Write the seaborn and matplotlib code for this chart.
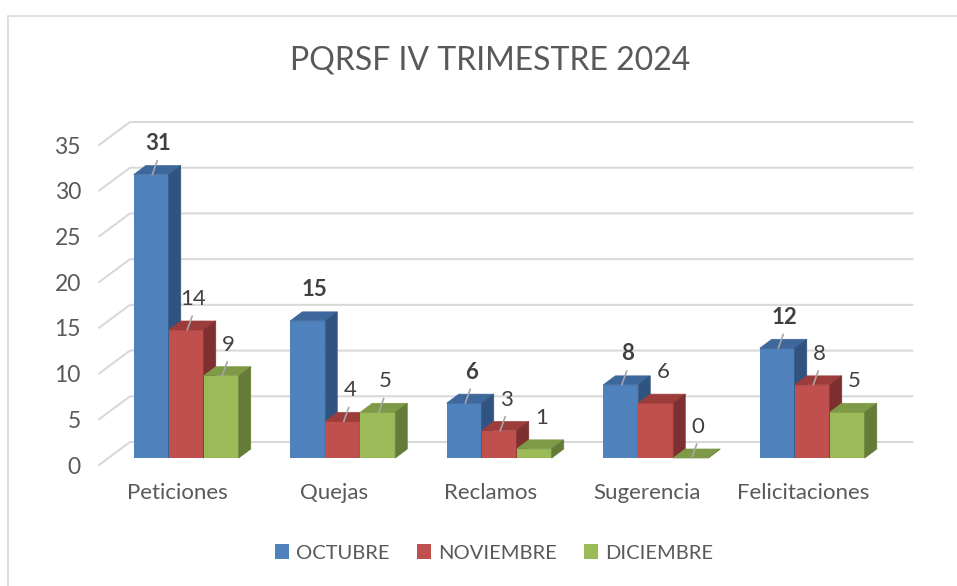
import matplotlib
matplotlib.use("Agg")
import matplotlib.pyplot as plt
import pandas as pd
import seaborn as sns
from matplotlib.patches import Polygon, Rectangle, Patch
from matplotlib.lines import Line2D
from matplotlib.transforms import ScaledTranslation

# datos del grafico
categorias = ["Peticiones", "Quejas", "Reclamos", "Sugerencia", "Felicitaciones"]
meses = ["OCTUBRE", "NOVIEMBRE", "DICIEMBRE"]
octubre = [31, 15, 6, 8, 12]
noviembre = [14, 4, 3, 6, 8]
diciembre = [9, 5, 1, 0, 5]
titulo = "PQRSF IV TRIMESTRE 2024"

# etiquetas sin linea guia
sin_guia = [("Quejas", "OCTUBRE"), ("Reclamos", "DICIEMBRE"),
            ("Sugerencia", "NOVIEMBRE"), ("Felicitaciones", "DICIEMBRE")]

col_frente = {"OCTUBRE": "#4f81bd", "NOVIEMBRE": "#c0504d", "DICIEMBRE": "#9bbb59"}
col_arriba = {"OCTUBRE": "#3e679b", "NOVIEMBRE": "#9d3d3b", "DICIEMBRE": "#7e9a47"}
col_lado = {"OCTUBRE": "#31537f", "NOVIEMBRE": "#7e3030", "DICIEMBRE": "#657c38"}
gris = "#595959"

W, H = 957, 586
sns.set_theme(style="white")
plt.rcParams['font.family'] = ['Lato', 'DejaVu Sans']

fig = plt.figure(figsize=(W / 100, H / 100), dpi=100)
ax = fig.add_axes([99 / W, (H - 465) / H, 782.5 / W, 320 / H])

df = pd.DataFrame({
    "cat": categorias * 3,
    "mes": [m for m in meses for _ in categorias],
    "valor": octubre + noviembre + diciembre,
})

sns.barplot(data=df, x="cat", y="valor", hue="mes", order=categorias,
            hue_order=meses, palette=col_frente, width=0.671, gap=0,
            saturation=1, legend=False, linewidth=0, ax=ax)

ax.set_xlim(-0.5, 4.5)
ax.set_ylim(0, 35)
ax.set_yticks(range(0, 36, 5))
ax.set_xlabel("")
ax.set_ylabel("")
sns.despine(ax=ax, left=True, bottom=True)
ax.tick_params(axis="y", length=0, pad=13, labelsize=16.5, labelcolor=gris)
ax.tick_params(axis="x", length=0, pad=13, labelsize=16, labelcolor=gris)
ax.grid(False)


def fp(px, py):
    # pixel (desde arriba) -> fraccion de figura
    return (px / W, (H - py) / H)


def to_px(x, y):
    dx, dy = ax.transData.transform((x, y))
    return dx, H - dy


# desplazamientos de profundidad en pixeles
FRENTE = (9, 7)
PROF = (12, 9)
FONDO = (31, 23)

# lineas de division (pared trasera)
for v in range(0, 36, 5):
    x0, y0 = to_px(-0.5, v)
    x1, _ = to_px(4.5, v)
    pts = [fp(x0, y0), fp(x0 + FONDO[0], y0 - FONDO[1]), fp(x1 + FONDO[0], y0 - FONDO[1])]
    ax.add_line(Line2D([p[0] for p in pts], [p[1] for p in pts], color="#d9d9d9",
                       lw=1.5, transform=fig.transFigure, clip_on=False, zorder=1))

barras = sorted(ax.patches, key=lambda p: p.get_x())
off = ScaledTranslation(FRENTE[0] / 100, FRENTE[1] / 100, fig.dpi_scale_trans)
for i, bar in enumerate(barras):
    cat = categorias[i // 3]
    mes = meses[i % 3]
    z = 3 + i * 0.01
    xa, xb = bar.get_x(), bar.get_x() + bar.get_width()
    h = bar.get_height()
    bar.set_transform(ax.transData + off)
    bar.set_zorder(z)
    bar.set_clip_on(False)
    lx, ty = to_px(xa, h)
    rx, by = to_px(xb, 0)
    lx += FRENTE[0]
    rx += FRENTE[0]
    ty -= FRENTE[1]
    by -= FRENTE[1]
    dx, dy = PROF
    arriba = [fp(lx, ty), fp(rx, ty), fp(rx + dx, ty - dy), fp(lx + dx, ty - dy)]
    lado = [fp(rx, ty), fp(rx + dx, ty - dy), fp(rx + dx, by - dy), fp(rx, by)]
    ax.add_patch(Polygon(arriba, closed=True, facecolor=col_arriba[mes], edgecolor=col_arriba[mes],
                         lw=0.5, transform=fig.transFigure, clip_on=False, zorder=z))
    ax.add_patch(Polygon(lado, closed=True, facecolor=col_lado[mes], edgecolor=col_lado[mes],
                         lw=0.5, transform=fig.transFigure, clip_on=False, zorder=z))
    cx = (lx + rx) / 2
    if (cat, mes) not in sin_guia:
        ax.add_line(Line2D([fp(cx + 1, ty)[0], fp(cx + 6, ty - 14)[0]],
                           [fp(cx + 1, ty)[1], fp(cx + 6, ty - 14)[1]],
                           color="#a6a6a6", lw=1.2, transform=fig.transFigure,
                           clip_on=False, zorder=z + 0.005))
    tx, tyy = fp(cx + 7, ty - 31)
    fig.text(tx, tyy, f"{int(h)}", ha="center", va="center", fontsize=16,
             color="#404040", fontweight="bold" if mes == "OCTUBRE" else "normal")

fig.text(490 / W, 1 - 61 / H, titulo, ha="center", va="center", fontsize=23, color=gris)

handles = [Patch(facecolor=col_frente[m], edgecolor="none", label=m) for m in meses]
fig.legend(handles=handles, loc="center", bbox_to_anchor=(494 / W, 1 - 553 / H), ncol=3,
           frameon=False, fontsize=14.5, handlelength=0.7, handleheight=0.7,
           handletextpad=0.35, columnspacing=1.35, labelcolor=gris)

fig.add_artist(Rectangle((8 / W, -0.05), 1.0, 1 - 16 / H + 0.05, transform=fig.transFigure,
                         fill=False, edgecolor="#d9d9d9", lw=1.2))

fig.savefig("out.png", dpi=100)
